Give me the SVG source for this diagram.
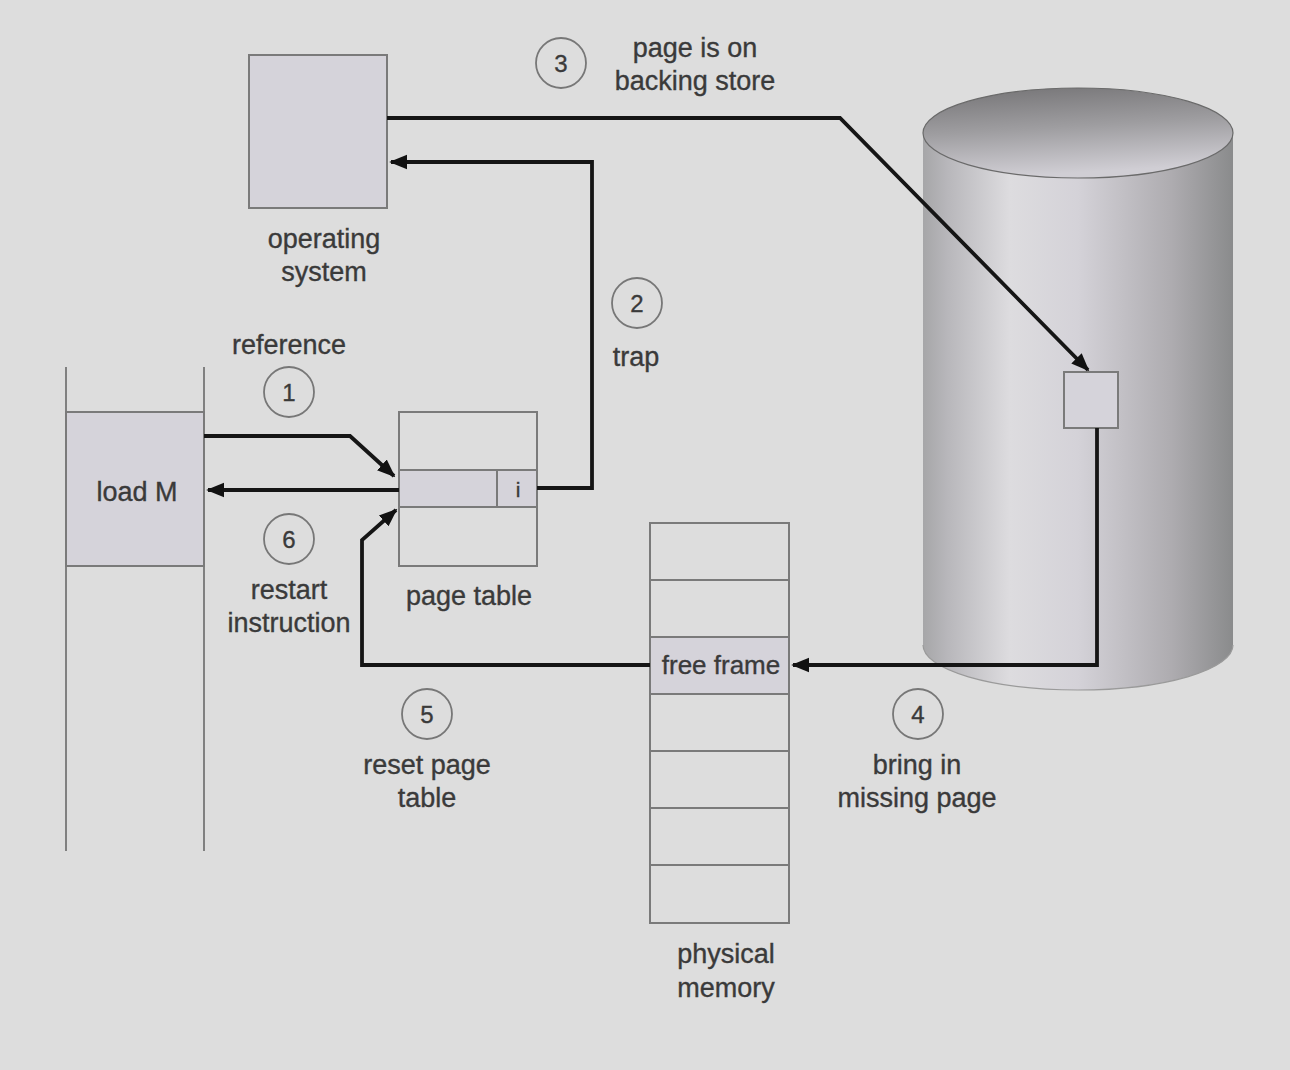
<svg xmlns="http://www.w3.org/2000/svg" width="1290" height="1070" viewBox="0 0 1290 1070">
<defs>
<linearGradient id="side" x1="0" y1="0" x2="1" y2="0">
<stop offset="0" stop-color="#a6a6a8"/>
<stop offset="0.08" stop-color="#b8b7bb"/>
<stop offset="0.28" stop-color="#dddcdf"/>
<stop offset="0.5" stop-color="#d4d2d8"/>
<stop offset="0.8" stop-color="#aeacb0"/>
<stop offset="1" stop-color="#8a8b8c"/>
</linearGradient>
<linearGradient id="top" x1="0" y1="0" x2="0.2" y2="1">
<stop offset="0" stop-color="#747375"/>
<stop offset="0.5" stop-color="#9e9da0"/>
<stop offset="1" stop-color="#d0ced4"/>
</linearGradient>
<marker id="ah" viewBox="0 0 10 10" refX="9" refY="5" markerWidth="4.8" markerHeight="4.8" orient="auto" markerUnits="strokeWidth">
<path d="M0,1 L10,5 L0,9 z" fill="#111"/>
</marker>
</defs>
<style>
.bg{fill:#dddddd}
.box{fill:#d5d3da;stroke:#7a7a7a;stroke-width:2}
.cell{fill:none;stroke:#7a7a7a;stroke-width:2}
.ln{fill:none;stroke:#808080;stroke-width:2}
.arr{fill:none;stroke:#151515;stroke-width:3.8;stroke-linejoin:miter}
.circ{fill:none;stroke:#777;stroke-width:1.8}
text{font-family:"Liberation Sans",Arial,sans-serif;font-size:27px;fill:#3a3a3a;stroke:#3a3a3a;stroke-width:0.35;text-anchor:middle}
.num{font-size:24px}
</style>
<rect class="bg" x="0" y="0" width="1290" height="1070"/>

<g id="disk">
<path d="M923,133 L923,645 A155,45 0 0 0 1233,645 L1233,133 Z" fill="url(#side)"/>
<path d="M923,645 A155,45 0 0 0 1233,645" fill="none" stroke="#9a9a9a" stroke-width="1.2"/>
<ellipse cx="1078" cy="133" rx="155" ry="45" fill="url(#top)" stroke="#6a6a6a" stroke-width="1.2"/>
<rect class="box" x="1064" y="372" width="54" height="56"/>
</g>

<g id="os">
<rect class="box" x="249" y="55" width="138" height="153"/>
<text x="324" y="248">operating</text>
<text x="324" y="281">system</text>
</g>

<g id="process">
<line class="ln" x1="66" y1="367" x2="66" y2="851"/>
<line class="ln" x1="204" y1="367" x2="204" y2="851"/>
<rect class="box" x="66" y="412" width="138" height="154"/>
<text x="137" y="501">load M</text>
</g>

<g id="pagetable">
<rect class="cell" x="399" y="412" width="138" height="154"/>
<rect class="box" x="399" y="470" width="138" height="37"/>
<line class="cell" x1="497" y1="470" x2="497" y2="507"/>
<text x="518" y="497" style="font-size:21px">i</text>
<text x="469" y="605">page table</text>
</g>

<g id="memory">
<rect class="cell" x="650" y="523" width="139" height="400"/>
<rect class="box" x="650" y="637" width="139" height="57"/>
<line class="cell" x1="650" y1="580" x2="789" y2="580"/>
<line class="cell" x1="650" y1="751" x2="789" y2="751"/>
<line class="cell" x1="650" y1="808" x2="789" y2="808"/>
<line class="cell" x1="650" y1="865" x2="789" y2="865"/>
<text x="721" y="674" style="font-size:26px">free frame</text>
<text x="726" y="963">physical</text>
<text x="726" y="997">memory</text>
</g>

<g id="connectors">
<path class="arr" d="M204,436 L350,436 L394,476" marker-end="url(#ah)"/>
<path class="arr" d="M399,490 L208,490" marker-end="url(#ah)"/>
<path class="arr" d="M537,488 L592,488 L592,162 L391,162" marker-end="url(#ah)"/>
<path class="arr" d="M387,118 L840,118 L1088,370" marker-end="url(#ah)"/>
<path class="arr" d="M1097,428 L1097,665 L793,665" marker-end="url(#ah)"/>
<path class="arr" d="M650,665 L362,665 L362,540 L396,510" marker-end="url(#ah)"/>
</g>

<g id="labels">
<circle class="circ" cx="289" cy="392" r="25"/>
<text class="num" x="289" y="401">1</text>
<text x="289" y="354">reference</text>
<circle class="circ" cx="637" cy="303" r="25"/>
<text class="num" x="637" y="312">2</text>
<text x="636" y="366">trap</text>
<circle class="circ" cx="561" cy="63" r="25"/>
<text class="num" x="561" y="72">3</text>
<text x="695" y="57">page is on</text>
<text x="695" y="90">backing store</text>
<circle class="circ" cx="918" cy="714" r="25"/>
<text class="num" x="918" y="723">4</text>
<text x="917" y="774">bring in</text>
<text x="917" y="807">missing page</text>
<circle class="circ" cx="427" cy="714" r="25"/>
<text class="num" x="427" y="723">5</text>
<text x="427" y="774">reset page</text>
<text x="427" y="807">table</text>
<circle class="circ" cx="289" cy="539" r="25"/>
<text class="num" x="289" y="548">6</text>
<text x="289" y="599">restart</text>
<text x="289" y="632">instruction</text>
</g>
</svg>
